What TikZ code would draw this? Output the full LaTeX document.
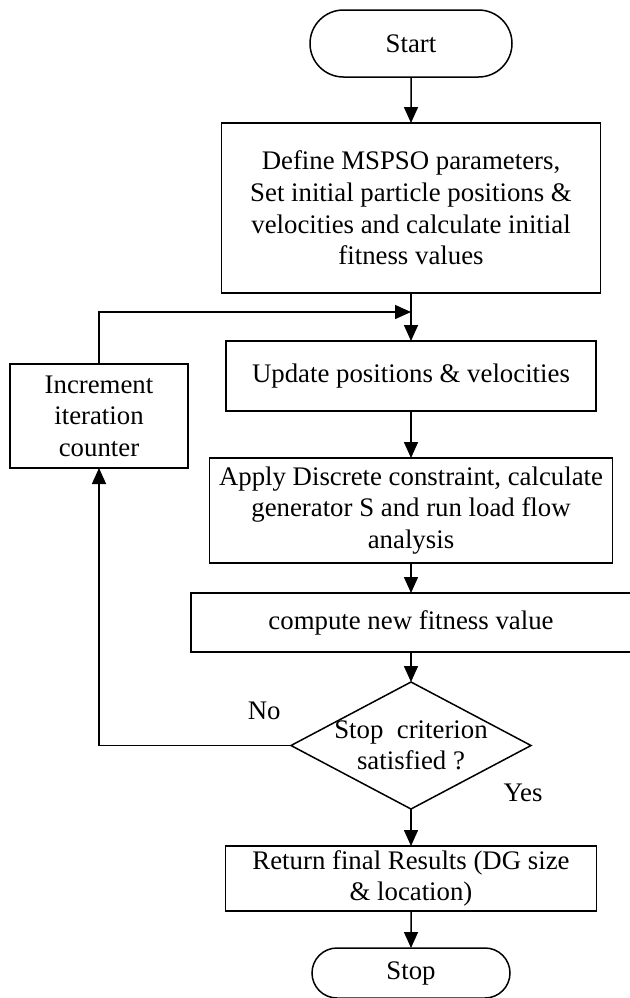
\documentclass[tikz,border=0pt]{standalone}
\usepackage{fontspec}
\setmainfont{Liberation Serif}
\usetikzlibrary{arrows.meta,positioning,shapes.geometric,shapes.misc}
\tikzset{
  term/.style={draw=black, line width=0.75pt, rounded rectangle, outer sep=0pt,
    minimum width=103pt, inner sep=1pt},
  box/.style={draw=black, line width=0.75pt, align=center, outer sep=0pt,
    inner xsep=2pt, inner ysep=1pt},
  decision/.style={draw=black, line width=0.75pt, diamond, outer sep=0pt,
    inner sep=0pt, minimum width=120pt, minimum height=63.5pt},
  lbl/.style={inner sep=0pt, align=center},
  arr/.style={-{Triangle[length=8pt,width=7pt]}, line width=0.75pt}
}
\begin{document}
\begin{tikzpicture}[font=\fontsize{13.4}{15.8}\selectfont]
  \useasboundingbox (0,0) rectangle (315pt,-499pt);

  \node[term, minimum height=33.5pt] (start) at (205.5pt,-21.75pt) {Start};
  \node[box, below=23pt of start, minimum width=189.5pt, minimum height=85pt] (init)
    {Define MSPSO parameters,\\Set initial particle positions \&\\velocities and calculate initial\\fitness values};
  \node[box, below=24pt of init, minimum width=185pt, minimum height=35pt] (upd)
    {Update positions \& velocities};
  \node[box, below=23.5pt of upd, minimum width=201.5pt, minimum height=52.5pt] (apply)
    {Apply Discrete constraint, calculate\\generator S and run load flow\\analysis};
  \node[box, below=15pt of apply, minimum width=220pt, minimum height=29.5pt] (fit)
    {compute new fitness value};
  \node[decision, below=15pt of fit] (chk) {};
  \node[lbl] (chktxt) at (chk) {Stop\ \ criterion\\satisfied ?};
  \node[box, below=18.5pt of chk, minimum width=185.5pt, minimum height=32.5pt] (res)
    {Return final Results (DG size\\\& location)};
  \node[term, below=18.5pt of res, minimum width=101pt, minimum height=25pt] (stop) {Stop};

  % loop back branch
  \node[box, left=19pt of upd, yshift=-20pt, minimum width=89pt, minimum height=52pt] (inc)
    {Increment\\iteration\\counter};
  \coordinate[below=9.5pt of init] (join);
  \node[lbl, above left=12.5pt and 5pt of chk.west] (no) {No};
  \node[lbl, below=19pt of chk.east, xshift=-4pt] (yes) {Yes};

  \draw[arr] (start) -- (init);
  \draw[arr] (init) -- (upd);
  \draw[arr] (upd) -- (apply);
  \draw[arr] (apply) -- (fit);
  \draw[arr] (fit) -- (chk);
  \draw[arr] (chk) -- (res);
  \draw[arr] (res) -- (stop);
  \draw[arr] (chk.west) -| (inc.south);
  \draw[arr] (inc.north) |- (join);
\end{tikzpicture}
\end{document}
